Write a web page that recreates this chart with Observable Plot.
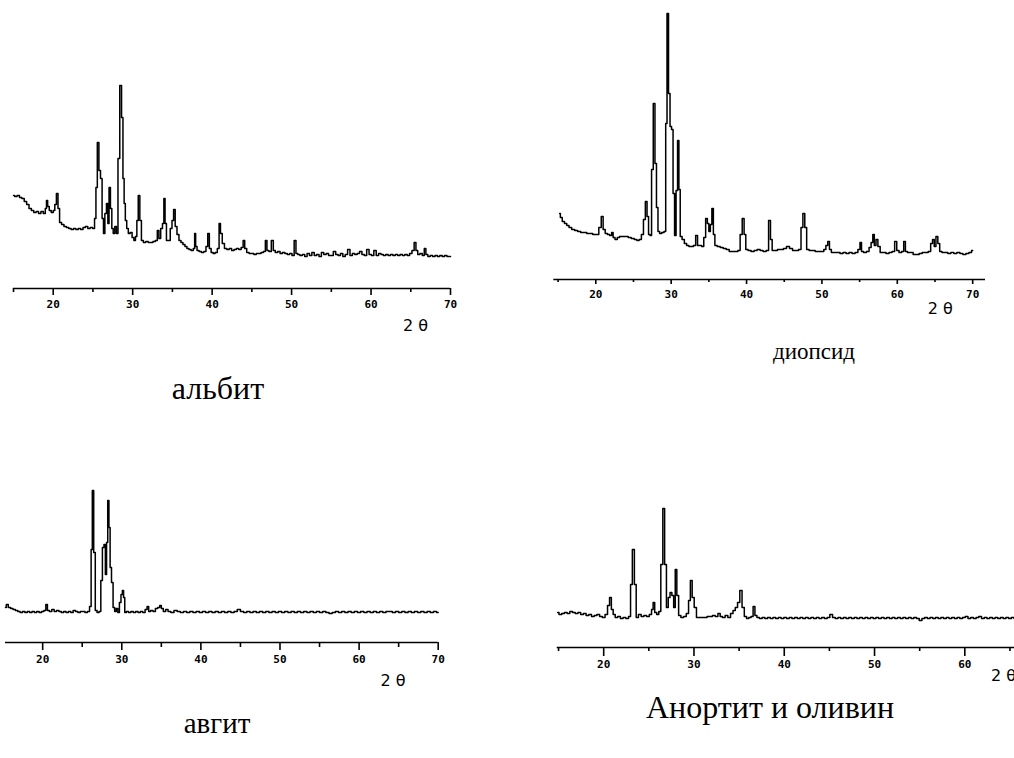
<!DOCTYPE html>
<html><head><meta charset="utf-8">
<script src="https://cdn.jsdelivr.net/npm/d3@7"></script>
<script src="https://cdn.jsdelivr.net/npm/@observablehq/plot@0.6"></script>
<style>
html,body{margin:0;padding:0;background:#fff;}
#root{position:relative;width:1014px;height:758px;overflow:hidden;background:#fff;}
.panel{position:absolute;}
.title{position:absolute;font-family:"Liberation Serif","Times New Roman",serif;color:#000;white-space:nowrap;transform:translateX(-50%);}
</style></head><body><div id="root"></div>
<script>
// ---- data (2θ in degrees, intensity in arbitrary units) ----
const titles = ["альбит", "диопсид", "авгит", "Анортит и оливин"];
const axisLabel = "2 θ";
const majorTicks = [20, 30, 40, 50, 60, 70];
const minorTicks = [15, 25, 35, 45, 55, 65];

const albiteX = [15.0,15.3,15.6,15.9,16.2,16.5,16.8,17.1,17.4,17.7,18.0,18.3,18.6,18.9,19.1,19.2,19.4,19.6,19.9,20.1,20.3,20.5,20.7,20.9,21.2,21.5,21.8,22.1,22.4,22.7,23.0,23.3,23.6,23.9,24.2,24.5,24.8,25.1,25.3,25.45,25.65,25.85,26.05,26.25,26.4,26.6,26.8,26.95,27.1,27.3,27.45,27.65,27.85,28.05,28.25,28.5,28.7,28.85,29.0,29.15,29.35,29.55,29.8,30.05,30.25,30.45,30.6,30.8,31.0,31.2,31.5,31.8,32.1,32.4,32.7,33.0,33.2,33.4,33.65,33.85,34.0,34.15,34.35,34.6,34.85,35.05,35.25,35.45,35.7,35.95,36.2,36.45,36.7,36.95,37.2,37.5,37.75,37.85,38.0,38.2,38.5,38.8,39.1,39.35,39.55,39.75,40.0,40.25,40.5,40.8,40.95,41.15,41.4,41.7,42.0,42.3,42.6,42.9,43.2,43.5,43.8,44.0,44.2,44.5,44.8,45.1,45.4,45.7,46.0,46.3,46.6,46.8,47.0,47.3,47.6,47.8,48.1,48.4,48.7,49.0,49.3,49.6,49.9,50.2,50.45,50.65,50.9,51.2,51.5,51.8,52.1,52.4,52.7,53.0,53.3,53.6,53.9,54.2,54.5,54.8,55.1,55.4,55.7,56.0,56.3,56.6,56.9,57.2,57.5,57.8,58.1,58.4,58.7,59.0,59.3,59.6,59.9,60.2,60.5,60.8,61.1,61.4,61.7,62.0,62.3,62.6,62.9,63.2,63.5,63.8,64.1,64.4,64.7,65.0,65.3,65.55,65.75,66.0,66.3,66.6,66.8,67.0,67.3,67.6,67.9,68.2,68.5,68.8,69.1,69.4,69.7,70.0];
const albiteY = [93,92,93,91,90,87,84,80,78,76,77,75,77,75,80,88,82,78,76,78,84,95,80,66,64,62,61,60,59,60,59,60,59,61,62,60,61,60,70,101,146,118,110,70,55,75,85,65,101,80,60,55,62,55,130,203,171,110,85,68,60,55,56,51,48,52,68,93,68,48,46,47,46,46,47,48,58,50,60,65,90,65,48,48,60,68,79,62,54,48,46,44,42,40,39,38,40,55,42,38,37,36,37,42,55,40,36,35,36,40,65,55,45,40,39,40,38,39,40,39,41,48,40,36,35,35,34,35,35,36,37,48,38,37,48,38,36,37,35,36,35,34,35,33,48,35,34,33,34,32,35,33,36,33,34,32,36,34,35,33,33,37,34,33,35,32,34,39,33,35,34,35,37,34,33,39,34,33,38,33,35,34,33,34,33,34,33,34,33,34,33,34,33,35,38,46,38,34,35,33,40,34,32,33,32,33,32,33,32,33,32,32];

const diopsideX = [15.2,15.4,15.7,16.0,16.3,16.6,17.0,17.4,17.8,18.2,18.6,19.0,19.4,19.8,20.2,20.6,20.85,21.1,21.4,21.7,22.0,22.2,22.4,22.7,23.0,23.3,23.7,24.1,24.5,24.9,25.3,25.6,25.9,26.2,26.45,26.7,26.9,27.1,27.3,27.5,27.75,27.95,28.15,28.35,28.6,28.9,29.2,29.35,29.55,29.75,29.95,30.15,30.35,30.55,30.75,30.95,31.1,31.3,31.6,31.9,32.2,32.5,32.8,33.1,33.4,33.6,33.9,34.2,34.45,34.7,34.9,35.1,35.3,35.5,35.7,35.9,36.3,36.7,37.1,37.5,37.9,38.3,38.7,39.0,39.3,39.55,39.8,40.0,40.4,40.8,41.2,41.6,42.0,42.4,42.8,43.05,43.3,43.5,43.9,44.3,44.7,45.1,45.5,45.9,46.3,46.7,47.1,47.35,47.6,47.85,48.1,48.5,48.9,49.3,49.7,50.1,50.4,50.65,50.9,51.1,51.4,51.8,52.2,52.6,53.0,53.4,53.8,54.2,54.6,54.95,55.15,55.35,55.7,56.1,56.4,56.65,56.85,57.05,57.3,57.55,57.9,58.3,58.7,59.1,59.5,59.8,60.05,60.4,60.75,60.95,61.2,61.5,61.9,62.3,62.7,63.1,63.5,63.9,64.3,64.55,64.8,65.0,65.25,65.5,65.75,66.1,66.5,66.9,67.3,67.7,68.1,68.5,68.9,69.3,69.7,70.0];
const diopsideY = [66,62,58,56,54,52,50,49,48,47,47,46,46,45,45,52,63,50,46,45,44,47,42,40,42,43,43,43,42,41,40,39,40,45,60,78,63,45,44,110,176,116,72,48,46,47,48,156,266,186,153,150,86,44,89,139,90,43,40,36,34,33,33,34,44,34,34,33,42,61,56,48,55,71,45,34,33,32,31,30,28,28,28,29,45,61,45,30,29,28,29,30,29,28,29,59,40,29,29,30,30,31,33,31,29,29,30,52,66,52,30,29,29,28,28,28,30,34,38,30,27,27,27,26,27,26,27,26,27,30,37,28,27,28,32,37,45,34,40,33,27,27,26,27,28,38,29,27,28,38,28,27,27,25,25,26,27,27,28,36,40,33,43,36,28,27,27,26,27,26,27,26,25,26,27,29];

const augiteX = [15.3,15.5,15.8,16.1,16.4,16.7,17.0,17.3,17.6,17.9,18.2,18.5,18.8,19.1,19.4,19.7,20.0,20.3,20.5,20.7,21.0,21.3,21.6,21.9,22.2,22.5,22.8,23.1,23.4,23.7,24.0,24.3,24.6,24.9,25.2,25.5,25.8,26.05,26.2,26.35,26.55,26.75,27.0,27.25,27.45,27.65,27.85,28.0,28.15,28.3,28.45,28.6,28.8,29.0,29.2,29.4,29.6,29.8,30.0,30.15,30.3,30.45,30.7,31.0,31.3,31.6,31.9,32.2,32.5,32.8,33.1,33.3,33.5,33.8,34.1,34.4,34.7,34.9,35.1,35.4,35.7,36.0,36.4,36.8,37.2,37.6,38.0,38.4,38.8,39.2,39.6,40.0,40.4,40.8,41.2,41.6,42.0,42.4,42.8,43.2,43.6,44.0,44.4,44.8,45.2,45.6,46.0,46.4,46.8,47.2,47.6,48.0,48.4,48.8,49.2,49.6,50.0,50.4,50.8,51.2,51.6,52.0,52.4,52.8,53.2,53.6,54.0,54.4,54.8,55.2,55.6,56.0,56.4,56.8,57.2,57.6,58.0,58.4,58.8,59.2,59.6,60.0,60.4,60.8,61.2,61.6,62.0,62.4,62.8,63.2,63.6,64.0,64.4,64.8,65.2,65.6,66.0,66.4,66.8,67.2,67.6,68.0,68.4,68.8,69.2,69.6,70.0];
const augiteY = [35,38,35,34,33,32,31,30,31,30,31,30,31,30,31,30,31,32,38,32,31,33,31,32,31,30,31,30,31,30,32,31,30,31,31,30,31,36,93,152,90,32,30,31,62,95,98,68,100,142,115,75,60,35,31,34,30,40,48,52,45,30,31,30,31,30,31,30,31,30,33,36,31,32,31,34,35,37,34,31,33,31,30,32,31,30,31,30,31,30,31,30,31,30,31,30,31,30,31,30,31,30,31,33,31,30,31,30,31,30,31,30,31,30,31,30,31,30,31,30,31,30,31,30,31,30,31,30,31,30,31,30,29,30,31,30,31,30,31,30,31,30,31,30,31,30,31,30,31,30,31,31,30,31,30,31,30,31,30,31,30,31,30,31,30,31,30,31,31];

const anorthiteX = [14.9,15.2,15.5,15.8,16.1,16.4,16.7,17.0,17.3,17.6,17.9,18.2,18.5,18.8,19.1,19.4,19.7,20.0,20.3,20.55,20.75,20.95,21.15,21.4,21.7,22.0,22.3,22.6,22.9,23.05,23.3,23.5,23.7,24.0,24.3,24.6,24.9,25.2,25.4,25.55,25.75,26.0,26.2,26.45,26.65,26.85,27.05,27.25,27.45,27.65,27.85,28.0,28.2,28.4,28.7,29.0,29.3,29.5,29.7,29.9,30.15,30.4,30.7,31.0,31.3,31.6,31.9,32.2,32.5,32.8,33.0,33.3,33.6,33.9,34.2,34.45,34.7,34.95,35.2,35.45,35.7,35.95,36.2,36.45,36.65,36.85,37.1,37.4,37.7,38.0,38.3,38.6,38.9,39.2,39.5,39.8,40.1,40.4,40.7,41.0,41.3,41.6,41.9,42.2,42.5,42.8,43.1,43.4,43.7,44.0,44.3,44.6,44.9,45.2,45.5,45.8,46.1,46.4,46.7,47.0,47.3,47.6,47.9,48.2,48.5,48.8,49.1,49.4,49.7,50.0,50.3,50.6,50.9,51.2,51.5,51.8,52.1,52.4,52.7,53.0,53.3,53.6,53.9,54.2,54.5,54.8,55.1,55.4,55.7,56.0,56.3,56.6,56.9,57.2,57.5,57.8,58.1,58.4,58.7,59.0,59.3,59.6,59.9,60.2,60.5,60.8,61.1,61.4,61.7,62.0,62.3,62.6,62.9,63.2,63.5,63.8,64.1,64.4,64.7,65.0,65.3,65.6,66.0];
const anorthiteY = [35,33,34,35,34,36,35,34,35,33,34,32,33,31,32,33,31,30,33,42,50,38,33,30,31,29,30,29,31,63,98,63,30,33,31,32,31,33,38,45,35,33,36,83,139,83,40,50,55,52,40,78,52,32,30,31,34,47,67,50,40,30,30,30,30,31,31,32,31,34,31,30,32,30,34,37,40,45,57,40,31,29,30,31,41,32,30,29,30,29,30,29,30,29,30,29,30,29,30,29,30,29,30,29,30,29,30,29,30,29,30,29,30,33,30,29,30,29,30,29,30,29,30,29,30,29,30,29,30,29,30,29,30,29,30,29,30,29,30,29,30,29,30,29,30,29,27,29,30,29,30,29,30,29,30,29,30,29,30,29,30,29,30,31,29,30,29,30,31,29,30,29,30,29,30,29,30,29,30,29,30,29,30];

// ---- layout ----
const panels = [
  {xs: albiteX, ys: albiteY, left: 0, top: 70, width: 475, mL: 13, mR: 25, mT: 10, topH: 208, dom: [15, 70], major: 7, minor: 4, pad: 6, minorT: [15,25,35,45,55,65], lab: [65.6, -37]},
  {xs: diopsideX, ys: diopsideY, left: 540, top: 0, width: 460, mL: 13.3, mR: 15, mT: 8, topH: 271, dom: [14.43, 71.7], major: 5, minor: 3, pad: 7, minorT: [15,25,35,45,55,65], lab: [65.7, -29]},
  {xs: augiteX, ys: augiteY, left: 0, top: 480, width: 455, mL: 5, mR: 17.3, mT: 5, topH: 157, dom: [15.3, 70], major: 8, minor: 5, pad: 6, minorT: [25,35,45,55,65], lab: [64.3, -38]},
  {xs: anorthiteX, ys: anorthiteY, left: 540, top: 500, width: 535, mL: 16.7, mR: 20.4, mT: 5, topH: 142, dom: [14.85, 70], major: 9, minor: 4, pad: 5, minorT: [15,25,35,45,55,65], lab: [64.3, -28]}
];
// [center x, top y, font size]
const titlePos = [[218, 372, 32], [814, 340, 23], [217, 709, 29], [770, 691, 32]];

const root = document.getElementById("root");
panels.forEach((p) => {
  const data = p.xs.map((x, i) => ({x, y: p.ys[i]}));
  const height = p.mT + p.topH + 55;
  const chart = Plot.plot({
    width: p.width, height,
    marginLeft: p.mL, marginRight: p.mR, marginTop: p.mT, marginBottom: 55,
    x: {domain: p.dom},
    y: {domain: [0, p.topH], axis: null},
    style: {fontFamily: "DejaVu Sans Mono", fontSize: "11px", color: "#000", background: "transparent", overflow: "visible"},
    marks: [
      Plot.ruleY([0], {stroke: "#000", strokeWidth: 1.6}),
      Plot.line(data, {x: "x", y: "y", curve: "step", stroke: "#000", strokeWidth: 1.5}),
      Plot.axisX({ticks: majorTicks, tickSize: p.major, tickPadding: p.pad - 1, tickFormat: d => String(d), label: null, stroke: "#000", strokeWidth: 1.6, fontWeight: "bold", fill: "#000"}),
      Plot.axisX({ticks: p.minorT, tickSize: p.minor, tickFormat: () => "", label: null, stroke: "#000", strokeWidth: 1.6}),
      Plot.text([axisLabel], {x: p.lab[0], y: p.lab[1], text: d => d, fontFamily: "DejaVu Sans", fontSize: 16, fill: "#000"})
    ]
  });
  chart.classList.add("panel");
  chart.style.left = p.left + "px";
  chart.style.top = p.top + "px";
  root.appendChild(chart);
});
titles.forEach((t, i) => {
  const d = document.createElement("div");
  d.className = "title";
  d.textContent = t;
  d.style.left = titlePos[i][0] + "px";
  d.style.top = titlePos[i][1] + "px";
  d.style.fontSize = titlePos[i][2] + "px";
  d.style.lineHeight = titlePos[i][2] + "px";
  root.appendChild(d);
});
</script></body></html>
